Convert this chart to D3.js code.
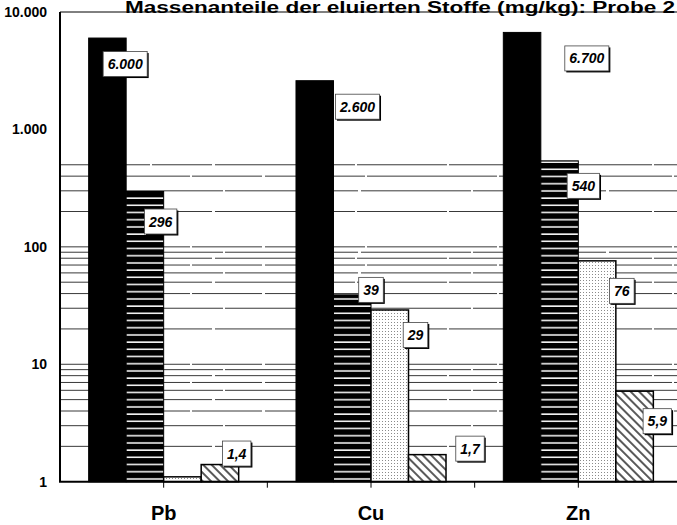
<!DOCTYPE html>
<html><head><meta charset="utf-8">
<script src="https://cdn.jsdelivr.net/npm/d3@7"></script>
<style>
html,body{margin:0;padding:0;background:#fff;}
svg{display:block;font-family:"Liberation Sans",Arial,sans-serif;}
</style></head>
<body><svg id="c" width="677" height="525"></svg>
<script>
// ---- data ----
const title = "Massenanteile der eluierten Stoffe (mg/kg): Probe 2";
const categories = ["Pb", "Cu", "Zn"];
const seriesNames = ["black", "striped", "dotted", "hatched"];
const valuesBlack   = [6000, 2600, 6700];
const valuesStriped = [296, 39, 540];
const valuesDotted  = [1.1, 29, 76];
const valuesHatched = [1.4, 1.7, 5.9];
const labelsBlack   = ["6.000", "2.600", "6.700"];
const labelsStriped = ["296", "39", "540"];
const labelsDotted  = [null, "29", "76"];
const labelsHatched = ["1,4", "1,7", "5,9"];
const yTickValues = [1, 10, 100, 1000, 10000];
const yTickLabels = ["1", "10", "100", "1.000", "10.000"];
const gridValues = [2,3,4,5,6,7,8,9,10,20,30,40,50,60,70,80,90,100,200,300,400,500];

// ---- layout (annotation placement relative to bar right edge / top) ----
const labelOffsets = {
  black:   [[-1, 26], [24, 26], [46, 26]],
  striped: [[-3, 30], [0, -5], [5, 25]],
  dotted:  [null, [7, 25], [6, 30]],
  hatched: [[-2, -11], [24, -6], [4, 30]]
};

const seriesValues = {black: valuesBlack, striped: valuesStriped, dotted: valuesDotted, hatched: valuesHatched};
const seriesLabels = {black: labelsBlack, striped: labelsStriped, dotted: labelsDotted, hatched: labelsHatched};

const svg = d3.select("#c");
const mLeft = 60, mRight = 682, mTop = 12, mBottom = 481.7;

const y = d3.scaleLog().domain([1, 10000]).range([mBottom, mTop]);
const x0 = d3.scaleBand().domain(categories).range([mLeft, mRight]).padding(0);
const bw = x0.bandwidth();
const groupW = bw * 0.7236;
const x1 = d3.scaleBand().domain(seriesNames).range([0, groupW]).padding(0);
const groupOff = (bw - groupW) / 2;

// patterns
const defs = svg.append("defs");
const pStr = defs.append("pattern").attr("id", "pStriped").attr("patternUnits", "userSpaceOnUse")
  .attr("width", 8).attr("height", 7.2);
pStr.append("rect").attr("width", 8).attr("height", 7.2).attr("fill", "#000");
pStr.append("rect").attr("y", 3).attr("width", 8).attr("height", 1.5).attr("fill", "#fff");

const pDot = defs.append("pattern").attr("id", "pDotted").attr("patternUnits", "userSpaceOnUse")
  .attr("width", 3).attr("height", 3);
pDot.append("rect").attr("width", 3).attr("height", 3).attr("fill", "#fff");
pDot.append("rect").attr("x", 1).attr("y", 1).attr("width", 1).attr("height", 1).attr("fill", "#8a8a8a");

const pHat = defs.append("pattern").attr("id", "pHatched").attr("patternUnits", "userSpaceOnUse")
  .attr("width", 6).attr("height", 6).attr("patternTransform", "rotate(-45)");
pHat.append("rect").attr("width", 6).attr("height", 6).attr("fill", "#fff");
pHat.append("line").attr("x1", 1).attr("x2", 1).attr("y1", 0).attr("y2", 6)
  .attr("stroke", "#000").attr("stroke-width", 1.3);

const fills = {black: "#000", striped: "url(#pStriped)", dotted: "url(#pDotted)", hatched: "url(#pHatched)"};

// title
svg.append("text").attr("x", 125).attr("y", 13)
  .attr("font-weight", "bold").attr("font-size", 16).attr("fill", "#000")
  .attr("textLength", 550).attr("lengthAdjust", "spacingAndGlyphs").text(title);

// grid lines
svg.append("g").selectAll("line").data(gridValues).join("line")
  .attr("x1", mLeft).attr("x2", 677)
  .attr("y1", d => y(d)).attr("y2", d => y(d))
  .attr("stroke", "#222").attr("stroke-width", 0.9)
  .attr("stroke-dasharray", (d, i) => ["90 2 60 3 140 2", "50 3 110 2 80 3", "130 2 70 3 100 2"][i % 3]);

// top border
svg.append("line").attr("x1", mLeft).attr("x2", 677).attr("y1", mTop).attr("y2", mTop)
  .attr("stroke", "#000").attr("stroke-width", 1);

// bars
const barData = [];
categories.forEach((c, ci) => {
  seriesNames.forEach(s => {
    barData.push({cat: c, ci, s, v: seriesValues[s][ci], label: seriesLabels[s][ci], off: labelOffsets[s][ci]});
  });
});
const bars = svg.append("g");
bars.selectAll("rect").data(barData).join("rect")
  .attr("x", d => x0(d.cat) + groupOff + x1(d.s))
  .attr("y", d => y(d.v))
  .attr("width", x1.bandwidth())
  .attr("height", d => y(1) - y(d.v))
  .attr("fill", d => fills[d.s])
  .attr("stroke", "#000")
  .attr("stroke-width", d => (d.s === "dotted" || d.s === "hatched") ? 1.5 : 1);

// axes
const yAxis = d3.axisLeft(y).tickValues(yTickValues).tickFormat((d, i) => yTickLabels[i]).tickSize(0).tickPadding(13);
const gy = svg.append("g").attr("transform", `translate(${mLeft},0)`).call(yAxis);
gy.select(".domain").remove();
gy.selectAll("text").attr("font-size", 14).attr("font-weight", "bold").attr("fill", "#000")
  .attr("font-family", "'Liberation Sans',Arial,sans-serif");
svg.append("line").attr("x1", mLeft).attr("x2", mLeft).attr("y1", mTop).attr("y2", mBottom)
  .attr("stroke", "#000").attr("stroke-width", 2);

const tickXs = [];
categories.forEach(c => { tickXs.push(x0(c) + bw / 2); tickXs.push(x0(c) + bw); });
svg.append("g").selectAll("line").data(tickXs.filter(v => v < 677)).join("line")
  .attr("x1", d => d).attr("x2", d => d).attr("y1", mBottom).attr("y2", mBottom + 6)
  .attr("stroke", "#000").attr("stroke-width", 1);
svg.append("line").attr("x1", mLeft - 1).attr("x2", 677).attr("y1", mBottom).attr("y2", mBottom)
  .attr("stroke", "#000").attr("stroke-width", 2);

svg.append("g").selectAll("text").data(categories).join("text")
  .attr("x", d => x0(d) + bw / 2).attr("y", 520)
  .attr("text-anchor", "middle").attr("font-size", 20).attr("font-weight", "bold")
  .attr("fill", "#000").text(d => d);

// value labels
const lab = svg.append("g").selectAll("g").data(barData.filter(d => d.label)).join("g")
  .attr("transform", d => {
    const xr = x0(d.cat) + groupOff + x1(d.s) + x1.bandwidth();
    return `translate(${xr + d.off[0]},${y(d.v) + d.off[1]})`;
  });
lab.each(function(d) {
  const g = d3.select(this);
  const tx = g.append("text").attr("text-anchor", "middle").attr("dy", "0.36em")
    .attr("font-size", 14).attr("font-weight", "bold").attr("font-style", "italic")
    .attr("fill", "#000").text(d.label);
  const w = tx.node().getComputedTextLength() + 9, h = 25;
  g.insert("rect", "text").attr("x", -w / 2 + 1.5).attr("y", -h / 2 + 1.5).attr("width", w).attr("height", h)
    .attr("fill", "#000");
  g.insert("rect", "text").attr("x", -w / 2).attr("y", -h / 2).attr("width", w).attr("height", h)
    .attr("fill", "#fff").attr("stroke", "#444").attr("stroke-width", 0.8);
});
</script></body></html>
